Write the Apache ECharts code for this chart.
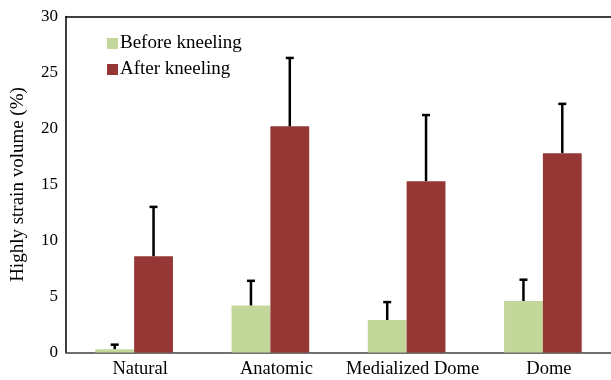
<!DOCTYPE html>
<html>
<head>
<meta charset="utf-8">
<script src="https://cdn.jsdelivr.net/npm/echarts@6/dist/echarts.min.js"></script>
<style>
html,body{margin:0;padding:0;background:#fff;}
#chart{width:611px;height:380px;}
</style>
</head>
<body>
<div id="chart"></div>
<script>
// Implant groups and measured highly strained volume (%)
const categories = ['Natural', 'Anatomic', 'Medialized Dome', 'Dome'];
const beforeValues = [0.3, 4.2, 2.9, 4.6];
const beforeErrors = [0.4, 2.2, 1.6, 1.9];
const afterValues = [8.6, 20.2, 15.3, 17.8];
const afterErrors = [4.4, 6.1, 5.9, 4.4];
const yTicks = [0, 5, 10, 15, 20, 25, 30];

const FONT = '"Liberation Serif", "Times New Roman", serif';
const GREEN = '#C4D79B';
const RED = '#953735';
const CAT_GAP = 0.43;

// Upward-only error bars centred on each bar of the pair
function errorSeries(values, errors, side) {
  return {
    type: 'custom',
    silent: true,
    z: 5,
    data: values.map((v, i) => [i, v, v + errors[i]]),
    renderItem: function (params, api) {
      const band = api.size([1, 0])[0];
      const barW = band * (1 - CAT_GAP) / 2;
      const off = side * barW / 2;
      const base = api.coord([api.value(0), api.value(1)]);
      const top = api.coord([api.value(0), api.value(2)]);
      const x = base[0] + off;
      const cap = 4;
      return {
        type: 'group',
        children: [
          { type: 'line', shape: { x1: x, y1: base[1], x2: x, y2: top[1] },
            style: { stroke: '#000', lineWidth: 2.5 } },
          { type: 'line', shape: { x1: x - cap, y1: top[1], x2: x + cap, y2: top[1] },
            style: { stroke: '#000', lineWidth: 2.5 } }
        ]
      };
    }
  };
}

const chart = echarts.init(document.getElementById('chart'));
chart.setOption({
  animation: false,
  backgroundColor: '#fff',
  grid: { left: 66, right: 0, top: 16.5, bottom: 27.5, containLabel: false },
  legend: {
    orient: 'vertical',
    left: 102,
    top: 29,
    itemWidth: 11,
    itemHeight: 11,
    itemGap: 7,
    textStyle: { fontFamily: FONT, fontSize: 19, color: '#000', padding: [0, 0, 0, -3] },
    data: [
      { name: 'Before kneeling', icon: 'rect' },
      { name: 'After kneeling', icon: 'rect' }
    ]
  },
  xAxis: [
    {
      type: 'category',
      data: categories,
      axisTick: { show: false },
      axisLine: { lineStyle: { color: '#404040', width: 1.5 } },
      axisLabel: { fontFamily: FONT, fontSize: 18.5, color: '#000', margin: 7, interval: 0,
                   padding: [0, 0, 0, 12] }
    },
    {
      type: 'category',
      position: 'top',
      data: categories,
      axisTick: { show: false },
      axisLabel: { show: false },
      axisLine: { lineStyle: { color: '#000', width: 1.5 } }
    }
  ],
  yAxis: {
    type: 'value',
    min: yTicks[0],
    max: yTicks[yTicks.length - 1],
    interval: yTicks[1] - yTicks[0],
    name: 'Highly strain volume (%)',
    nameLocation: 'middle',
    nameGap: 38,
    nameTextStyle: { fontFamily: FONT, fontSize: 19, color: '#000' },
    axisLine: { show: true, lineStyle: { color: '#000', width: 1.5 } },
    axisTick: { show: false },
    splitLine: { show: false },
    axisLabel: { fontFamily: FONT, fontSize: 17, color: '#000', margin: 8 }
  },
  series: [
    {
      name: 'Before kneeling',
      type: 'bar',
      data: beforeValues,
      itemStyle: { color: GREEN },
      barGap: '0%',
      barCategoryGap: (CAT_GAP * 100) + '%'
    },
    {
      name: 'After kneeling',
      type: 'bar',
      data: afterValues,
      itemStyle: { color: RED },
      barGap: '0%',
      barCategoryGap: (CAT_GAP * 100) + '%'
    },
    errorSeries(beforeValues, beforeErrors, -1),
    errorSeries(afterValues, afterErrors, 1)
  ]
});
</script>
</body>
</html>
